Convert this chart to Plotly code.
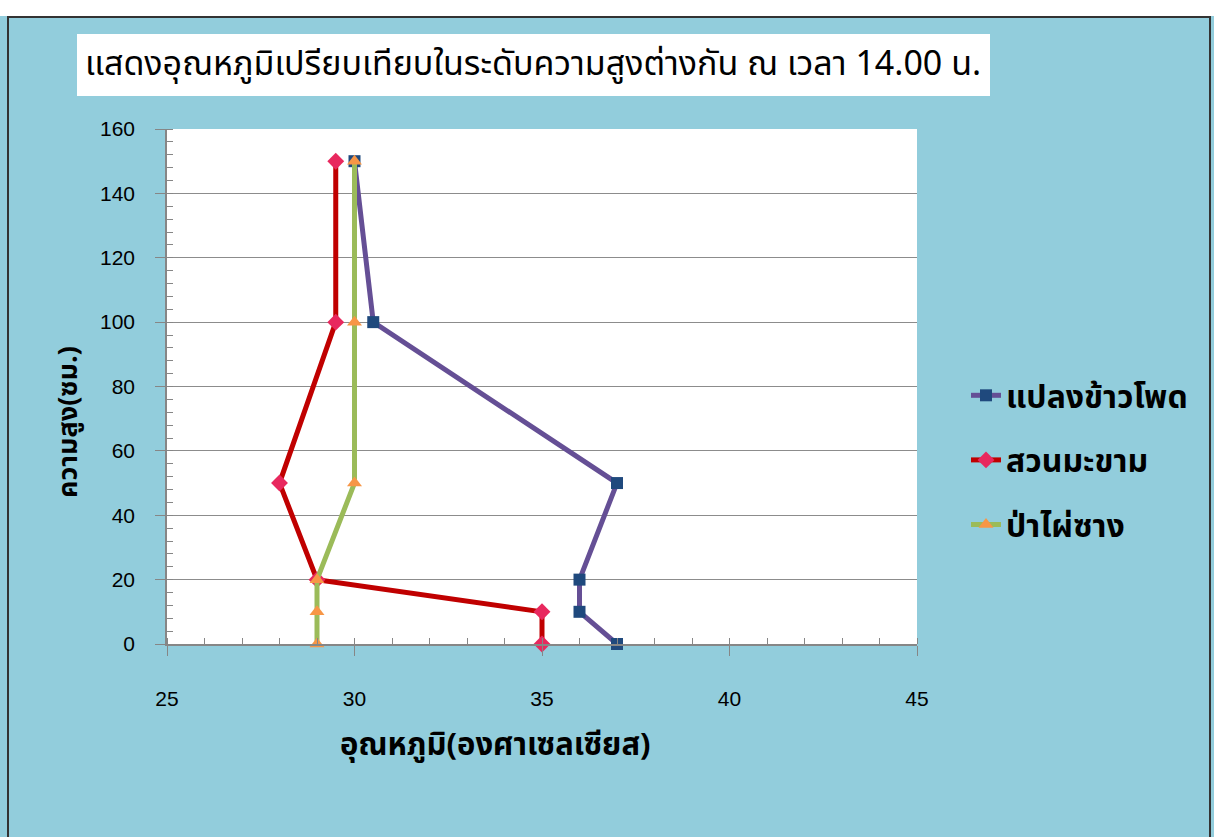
import plotly.graph_objects as go

# ---- data ----
heights = [0, 10, 20, 50, 100, 150]
corn_field = [37, 36, 36, 37, 30.5, 30]        # แปลงข้าวโพด
tamarind = [35, 35, 29, 28, 29.5, 29.5]         # สวนมะขาม
bamboo = [29, 29, 29, 30, 30, 30]               # ป่าไผ่ซาง
series_names = ["แปลงข้าวโพด", "สวนมะขาม", "ป่าไผ่ซาง"]
x_ticks = [25, 30, 35, 40, 45]
y_ticks = [0, 20, 40, 60, 80, 100, 120, 140, 160]

title_text = "แสดงอุณหภูมิเปรียบเทียบในระดับความสูงต่างกัน ณ เวลา 14.00 น."
x_title = "อุณหภูมิ(องศาเซลเซียส)"
y_title = "ความสูง(ซม.)"

# ---- layout geometry (pixels) ----
W, H = 1214, 837
L, R, T, B = 167, 917, 129, 644
pw, ph = R - L, B - T


def px(xp):
    return (xp - L) / pw


def py(yp):
    return (B - yp) / ph


THAI = "Noto Sans Thai, Tahoma, DejaVu Sans, Noto Sans, sans-serif"
BG = "#92CDDC"

fig = go.Figure()
styles = [
    dict(line=dict(color="#654F95", width=5),
         marker=dict(symbol="square", size=12, color="#1F497D")),
    dict(line=dict(color="#C00000", width=5),
         marker=dict(symbol="diamond", size=13, color="#E8285E")),
    dict(line=dict(color="#9BBB59", width=5),
         marker=dict(symbol="triangle-up", size=13, color="#F79646")),
]
for name, xs, st in zip(series_names, [corn_field, tamarind, bamboo], styles):
    fig.add_trace(go.Scatter(x=xs, y=heights, mode="lines+markers", name=name,
                             legendgroup=name, cliponaxis=False, **st))

axis_common = dict(showline=True, linecolor="#868686", linewidth=1.5,
                   ticks="outside", tickcolor="#868686", ticklen=10,
                   tickfont=dict(family="Liberation Sans, Arial", size=21, color="#000"),
                   zeroline=False)

fig.update_xaxes(range=[25, 45], tickvals=x_ticks, showgrid=False,
                 ticklabelstandoff=25,
                 minor=dict(ticks="inside", dtick=1, ticklen=6, tickcolor="#868686"),
                 **axis_common)
fig.update_yaxes(range=[0, 160], tickvals=y_ticks, showgrid=True,
                 gridcolor="#8C8C8C", gridwidth=1, ticklabelstandoff=16,
                 minor=dict(ticks="inside", dtick=4, ticklen=6, tickcolor="#868686"),
                 **axis_common)

shapes = [
    # white strip at the very top
    dict(type="rect", xref="paper", yref="paper", x0=px(0), x1=px(W),
         y0=py(16), y1=py(-2), fillcolor="white", line=dict(width=0), layer="below"),
    # outer border
    dict(type="rect", xref="paper", yref="paper", x0=px(8), x1=px(1210),
         y0=py(845), y1=py(17), fillcolor="rgba(0,0,0,0)",
         line=dict(color="#333333", width=2), layer="below"),
    # title box
    dict(type="rect", xref="paper", yref="paper", x0=px(77), x1=px(990),
         y0=py(96), y1=py(34), fillcolor="white", line=dict(width=0), layer="below"),
]

annotations = [
    dict(text=title_text, xref="paper", yref="paper", x=px(533), y=py(65),
         xanchor="center", yanchor="middle", showarrow=False,
         font=dict(family=THAI, size=34, color="#000")),
    dict(text="<b>" + x_title + "</b>", xref="paper", yref="paper", x=px(495), y=py(745),
         xanchor="center", yanchor="middle", showarrow=False,
         font=dict(family=THAI, size=31, color="#000")),
    dict(text="<b>" + y_title + "</b>", xref="paper", yref="paper", x=px(68), y=py(422),
         xanchor="center", yanchor="middle", showarrow=False, textangle=-90,
         font=dict(family=THAI, size=27, color="#000")),
]

fig.update_layout(
    width=W, height=H,
    margin=dict(l=L, r=W - R, t=T, b=H - B),
    paper_bgcolor=BG, plot_bgcolor="white",
    shapes=shapes, annotations=annotations,
    showlegend=True,
    legend=dict(x=px(966), y=py(368), xanchor="left", yanchor="top",
                bgcolor="rgba(0,0,0,0)", tracegroupgap=20, itemwidth=30,
                font=dict(family=THAI, size=32, color="#000", weight="bold")),
)

fig.write_html("out.html")
